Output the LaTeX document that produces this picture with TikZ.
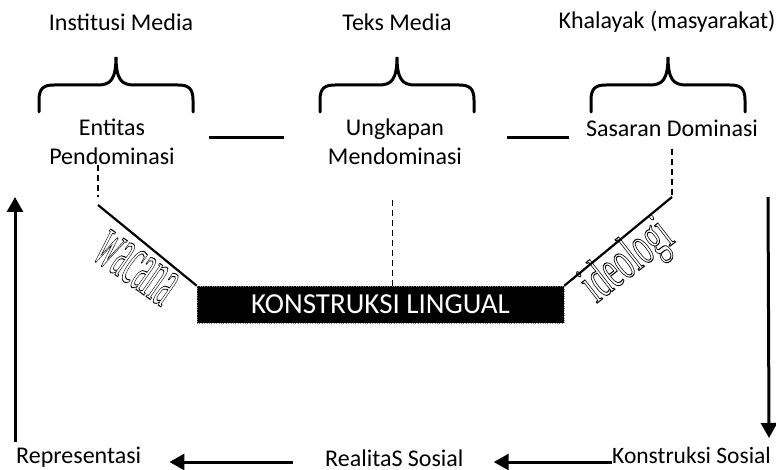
\documentclass[tikz,border=0pt]{standalone}
\usepackage{fontspec}
\setmainfont{Carlito}
\newfontfamily\artfont{Liberation Serif}
\usetikzlibrary{positioning,arrows.meta}
\newcommand{\hollow}[1]{\special{pdf:literal direct 1 Tr 1 w}#1\special{pdf:literal direct 0 Tr}}

\begin{document}
\begin{tikzpicture}[x=1pt, y=-1pt,
	lbl/.style={font=\fontsize{24}{29}\selectfont, align=center, inner sep=0pt},
	brc/.style={line width=3pt, line cap=round},
	link/.style={line width=3pt},
	guide/.style={line width=1.5pt, dash pattern=on 6pt off 4pt},
	slope/.style={line width=2.2pt},
	arr/.style={line width=3pt, -{Triangle[width=16pt,length=15pt]}},
	art/.style={inner sep=0pt}]
	\useasboundingbox (0,0) rectangle (776,470);

	% top titles
	\node[lbl] (im) at (121,22) {Institusi Media};
	\node[lbl] (tm) at (397,22) {Teks Media};
	\node[lbl] (kh) at (667,22) {Khalayak (masyarakat)};

	% braces
	\foreach \c in {116,397,668}
		\draw[brc] (\c-77,112) -- (\c-77,100) .. controls (\c-77,88) and (\c-72,85) .. (\c-62,85) -- (\c-18,85) .. controls (\c-6,85) and (\c,80) .. (\c,57) .. controls (\c,80) and (\c+6,85) .. (\c+18,85) -- (\c+62,85) .. controls (\c+72,85) and (\c+77,88) .. (\c+77,100) -- (\c+77,112);

	% middle row
	\node[lbl] (ep) at (112,142) {Entitas\\Pendominasi};
	\node[lbl] (um) at (395,142) {Ungkapan\\Mendominasi};
	\node[lbl] (sd) at (672,128) {Sasaran Dominasi};

	\draw[link] ([xshift=34pt,yshift=4pt]ep.east) -- ([xshift=-44pt,yshift=4pt]um.west);
	\draw[link] ([xshift=45pt,yshift=4pt]um.east) -- ++(62,0);

	% box
	\node[draw=gray, dotted, fill=black, minimum width=367pt, minimum height=37pt, text=white, font=\fontsize{29}{29}\selectfont] (kl) at (380.5,304.5) {KONSTRUKSI LINGUAL};

	\coordinate (wl) at (98,205);
	\coordinate (il) at (672,197);
	\draw[guide] (wl |- ep.south) -- ([yshift=8pt]wl);
	\draw[slope] (wl) -- (kl.north west);
	\draw[guide] (il |- sd.south) ++(0,12) -- (il);
	\draw[slope] (il) -- (kl.north east);
	\draw[guide] ([xshift=12pt]kl.north) -- ++(0,-89);

	\node[art, rotate=-35, xscale=0.38, font=\artfont\fontsize{76}{76}\selectfont] (wa) at (136,268) {\hollow{wacana}};
	\node[art, rotate=38, xscale=0.55, font=\artfont\fontsize{56}{56}\selectfont] (id) at (628,262) {\hollow{ideologi}};

	% bottom row
	\node[lbl, anchor=base west] (rep) at (16,463) {Representasi};
	\node[lbl, anchor=base west] (rs) at (325,466) {RealitaS Sosial};
	\node[lbl, anchor=base west, font=\fontsize{23.5}{29}\selectfont] (ks) at (612,463) {Konstruksi Sosial};

	\coordinate (lt) at (15,197);
	\coordinate (kt) at (768,197);
	\draw[arr] ([xshift=-1pt,yshift=21pt]rep.base west) -- (lt);
	\draw[arr] (kt) -- ([xshift=-2pt,yshift=25pt]ks.base east);
	\draw[arr] ([yshift=1pt]ks.base west) -- ([xshift=30pt,yshift=4pt]rs.base east);
	\draw[arr] ([xshift=-32pt,yshift=4pt]rs.base west) -- ([xshift=28pt,yshift=1pt]rep.base east);
\end{tikzpicture}
\end{document}
